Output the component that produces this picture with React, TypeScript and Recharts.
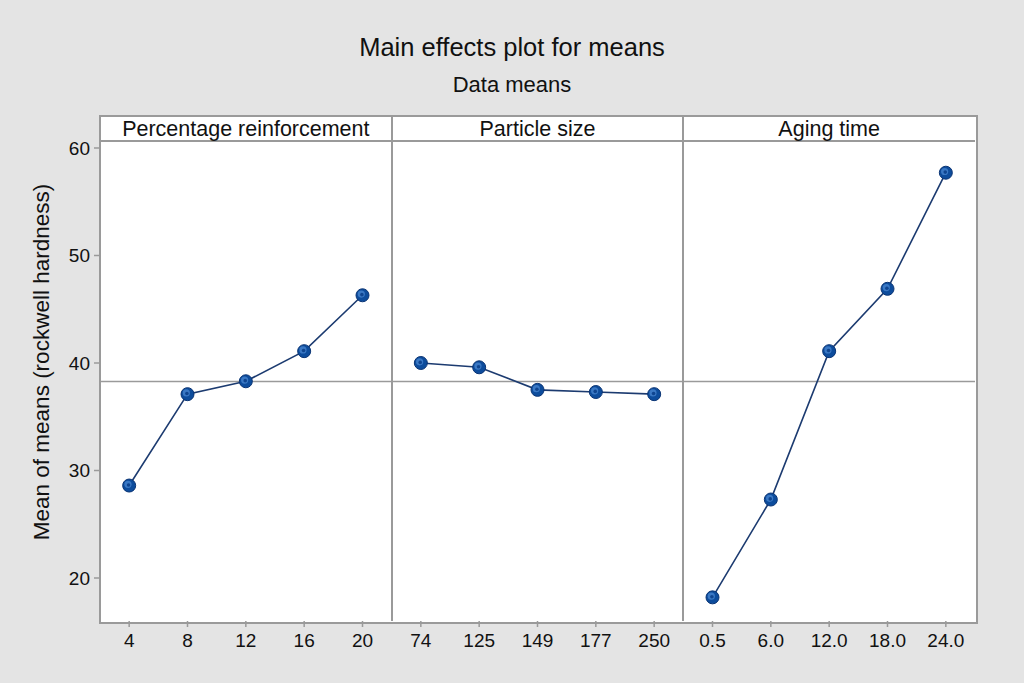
import { LineChart, Line, XAxis, YAxis, ReferenceLine } from "recharts";

const xLabels = ["4", "8", "12", "16", "20", "74", "125", "149", "177", "250", "0.5", "6.0", "12.0", "18.0", "24.0"];
const reinforcementMeans = [28.6, 37.1, 38.3, 41.1, 46.3];
const particleSizeMeans = [40.0, 39.6, 37.5, 37.3, 37.1];
const agingTimeMeans = [18.2, 27.3, 41.1, 46.9, 57.7];
const panelTitles = ["Percentage reinforcement", "Particle size", "Aging time"];
const yTicks = [20, 30, 40, 50, 60];
const grandMean = 38.28;

const data = xLabels.map((label, i) => ({
  label,
  p1: i < 5 ? reinforcementMeans[i] : null,
  p2: i >= 5 && i < 10 ? particleSizeMeans[i - 5] : null,
  p3: i >= 10 ? agingTimeMeans[i - 10] : null,
}));

const FONT = '"Liberation Sans", Arial, Helvetica, sans-serif';
const FRAME = "#9a9a9a";
const LEFT = 100;
const RIGHT = 975;
const TOP = 141;
const BOTTOM = 621;
const HEADER_TOP = 116;
const panelW = (RIGHT - LEFT) / 3;

const Dot = (props: any) => {
  const { cx, cy, value } = props;
  if (value == null || cx == null || cy == null) return null;
  return (
    <g>
      <circle cx={cx} cy={cy} r={6.5} fill="#0d4c9c" stroke="#0a3474" strokeWidth={1} />
      <circle cx={cx - 1.2} cy={cy - 1.2} r={3.6} fill="#3a78c4" />
      <circle cx={cx - 0.6} cy={cy - 0.6} r={1.8} fill="#0f4590" />
    </g>
  );
};

export default function App() {
  return (
    <div
      style={{
        position: "fixed",
        left: 0,
        top: 0,
        width: 1024,
        height: 683,
        background: "#e4e4e4",
        fontFamily: FONT,
        color: "#111",
      }}
    >
      <div style={{ position: "absolute", top: 32, width: "100%", textAlign: "center", fontSize: 25.5, lineHeight: "30px" }}>
        Main effects plot for means
      </div>
      <div style={{ position: "absolute", top: 72, width: "100%", textAlign: "center", fontSize: 22, lineHeight: "26px" }}>
        Data means
      </div>

      {/* panel frame */}
      <div
        style={{
          position: "absolute",
          left: LEFT - 1,
          top: HEADER_TOP - 1,
          width: RIGHT - LEFT,
          height: BOTTOM - HEADER_TOP,
          background: "#fff",
          border: `2px solid ${FRAME}`,
          boxSizing: "content-box",
        }}
      />
      <div style={{ position: "absolute", left: LEFT, top: TOP - 1, width: RIGHT - LEFT, height: 2, background: FRAME }} />
      {[1, 2].map((k) => (
        <div
          key={k}
          style={{ position: "absolute", left: LEFT + panelW * k - 1, top: HEADER_TOP, width: 2, height: BOTTOM - HEADER_TOP, background: FRAME }}
        />
      ))}
      {panelTitles.map((t, k) => (
        <div
          key={t}
          style={{
            position: "absolute",
            left: LEFT + panelW * k,
            top: HEADER_TOP + 1,
            width: panelW,
            height: TOP - HEADER_TOP - 1,
            lineHeight: `${TOP - HEADER_TOP - 1}px`,
            textAlign: "center",
            fontSize: 21.5,
          }}
        >
          {t}
        </div>
      ))}

      <div
        style={{
          position: "absolute",
          left: 42,
          top: 362,
          transform: "translate(-50%, -50%) rotate(-90deg)",
          whiteSpace: "nowrap",
          fontSize: 22.5,
        }}
      >
        Mean of means (rockwell hardness)
      </div>

      <div style={{ position: "absolute", left: 0, top: 0 }}>
        <LineChart width={1024} height={683} data={data} margin={{ top: TOP, right: 1024 - RIGHT, bottom: 22, left: 40 }}>
          <XAxis
            dataKey="label"
            height={40}
            axisLine={false}
            tickLine={{ stroke: FRAME, strokeWidth: 1.5 }}
            tickSize={6}
            tickMargin={7}
            padding={{ left: panelW / 10, right: panelW / 10 }}
            interval={0}
            tick={{ fill: "#111", fontSize: 19, fontFamily: FONT }}
          />
          <YAxis
            width={60}
            domain={[16, 60.65]}
            ticks={yTicks}
            axisLine={false}
            tickLine={{ stroke: FRAME, strokeWidth: 1.5 }}
            tickSize={6}
            tickMargin={4}
            tick={{ fill: "#111", fontSize: 19, fontFamily: FONT }}
          />
          <ReferenceLine y={grandMean} stroke={FRAME} strokeWidth={1.5} />
          {["p1", "p2", "p3"].map((k) => (
            <Line
              key={k}
              dataKey={k}
              stroke="#1c3b70"
              strokeWidth={1.6}
              dot={<Dot />}
              activeDot={false}
              isAnimationActive={false}
              type="linear"
            />
          ))}
        </LineChart>
      </div>
    </div>
  );
}
